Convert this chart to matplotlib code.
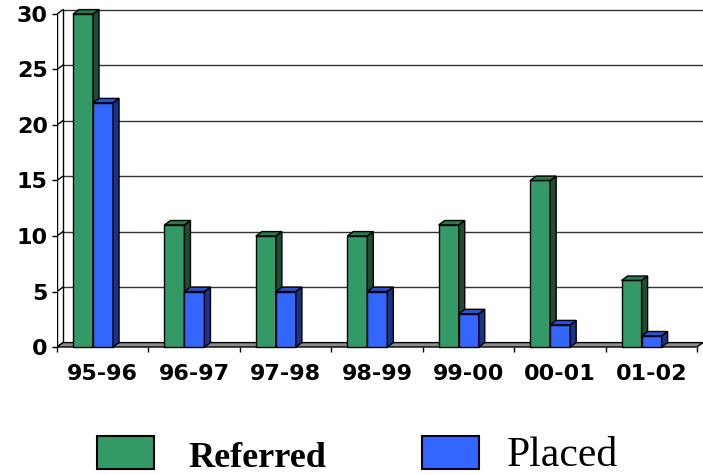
import numpy as np
import matplotlib.pyplot as plt
from matplotlib.patches import Polygon, Rectangle

years = ['95-96', '96-97', '97-98', '98-99', '99-00', '00-01', '01-02']
referred = [30, 11, 10, 10, 11, 15, 6]
placed = [22, 5, 5, 5, 3, 2, 1]
y_ticks = [0, 5, 10, 15, 20, 25, 30]

green = ('#339966', '#1f4d33', '#2a7a4f')   # front, side, top
blue = ('#3366ff', '#1a3388', '#2652d9')

W, H = 703, 475
fig = plt.figure(figsize=(W / 100, H / 100), dpi=100)

# axes placed so that data x=0 sits at px 57 and y=0 at px 347
sx = (697 - 57) / 7.0
sy = (347 - 14) / 30.0
xmax = (703 - 57) / sx
ylo, yhi = -1.2, 30.6
bot_px = 347 - ylo * sy
top_px = 347 - yhi * sy
ax = fig.add_axes([57 / W, (H - bot_px) / H, (703 - 57) / W, (bot_px - top_px) / H])
ax.set_xlim(0, xmax)
ax.set_ylim(ylo, yhi)
for s in ax.spines.values():
    s.set_visible(False)

dx = 6 / sx
dy = 4.4 / sy
n = len(years)

# floor
ax.add_patch(Polygon([(0, 0), (n, 0), (n + dx, dy), (dx, dy)], closed=True,
                     facecolor='#8c8c8c', edgecolor='black', lw=1, zorder=1))
# back wall grid
for t in y_ticks:
    if t > 0:
        ax.plot([dx, xmax], [t + dy, t + dy], color='#333333', lw=1, zorder=0)
    ax.plot([0, dx], [t, t + dy], color='black', lw=1, zorder=0)
ax.plot([dx, dx], [dy, 30 + dy], color='black', lw=1, zorder=0)
ax.plot([0, 0], [0, 30], color='black', lw=1, zorder=0)

bw = 0.219
off = 0.175


def bar3d(xs, hs, cols):
    ax.bar(xs, hs, width=bw, align='edge', color=cols[0], edgecolor='black',
           lw=1, zorder=3)
    for x, h in zip(xs, hs):
        ax.add_patch(Polygon([(x + bw, 0), (x + bw + dx, dy), (x + bw + dx, h + dy), (x + bw, h)],
                             closed=True, facecolor=cols[1], edgecolor='black', lw=1, zorder=3))
        ax.add_patch(Polygon([(x, h), (x + dx, h + dy), (x + bw + dx, h + dy), (x + bw, h)],
                             closed=True, facecolor=cols[2], edgecolor='black', lw=1, zorder=3))


xs = np.arange(n) + off
for i in range(n):
    bar3d([xs[i]], [referred[i]], green)
    bar3d([xs[i] + bw], [placed[i]], blue)

ax.set_yticks(y_ticks)
ax.set_yticklabels([str(t) for t in y_ticks])
ax.tick_params(axis='y', length=3.6, width=1, pad=3, labelsize=16)
for lab in ax.get_yticklabels():
    lab.set_fontweight('bold')

ax.spines['bottom'].set_position(('data', 0))
ax.set_xticks(np.arange(n + 1))
ax.set_xticklabels([])
ax.set_xticks(np.arange(n) + 0.5, minor=True)
ax.set_xticklabels(years, minor=True)
ax.tick_params(axis='x', which='major', length=3.6, width=1)
ax.tick_params(axis='x', which='minor', length=0, pad=12, labelsize=16)
for lab in ax.get_xticklabels(minor=True):
    lab.set_fontweight('bold')

# legend
fig.add_artist(Rectangle((97 / W, (H - 469) / H), 57 / W, 33 / H, transform=fig.transFigure,
                         facecolor=green[0], edgecolor='black', lw=1.5))
fig.add_artist(Rectangle((422 / W, (H - 469) / H), 57 / W, 33 / H, transform=fig.transFigure,
                         facecolor=blue[0], edgecolor='black', lw=1.5))
fig.text(188 / W, (H - 467) / H, 'Referred', family='Liberation Serif', fontweight='bold',
         fontsize=26, va='baseline')
fig.text(507 / W, (H - 466) / H, 'Placed', family='Liberation Serif', fontsize=30,
         va='baseline')

fig.savefig('out.png', dpi=100)
